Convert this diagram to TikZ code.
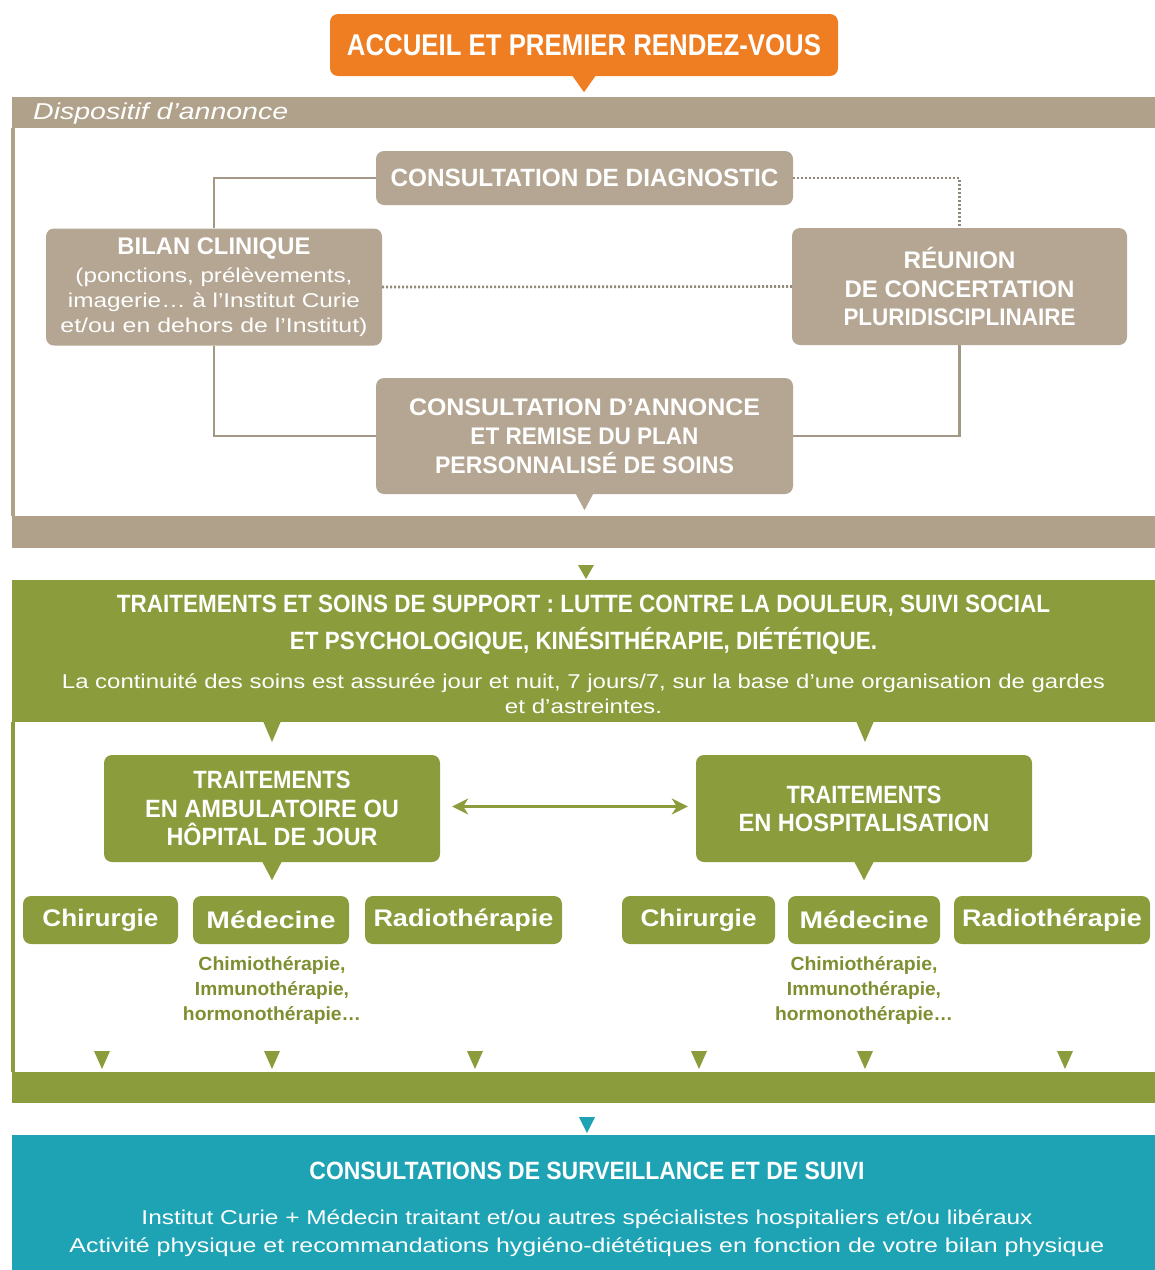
\documentclass[tikz,border=0pt]{standalone}
\usepackage{fontspec}
\setmainfont{Liberation Sans}
\usetikzlibrary{arrows.meta,backgrounds,calc}
\definecolor{orangeA}{HTML}{EF7D22}
\definecolor{brownbox}{HTML}{B4A692}
\definecolor{brownband}{HTML}{B0A18B}
\definecolor{brownline}{HTML}{A39886}
\definecolor{greenA}{HTML}{8A9C3C}
\definecolor{greentext}{HTML}{7D8F30}
\definecolor{tealA}{HTML}{1EA3B4}
\newcommand\hw[2]{\resizebox{#1pt}{\height}{#2}}
\newcommand\fs[2]{\fontsize{#1}{#2}\selectfont}
\tikzset{
  basebox/.style={rounded corners=8, inner sep=0, text=white, align=center},
  obox/.style={basebox, fill=orangeA},
  bbox/.style={basebox, fill=brownbox},
  gbox/.style={basebox, fill=greenA},
  conn/.style={draw=brownline, line width=2.8},
  dotconn/.style={draw=brownline!90!black, line width=2.6, dash pattern=on 2 off 2},
  band/.style={inner sep=0, text=white, align=center},
}
\begin{document}
\begin{tikzpicture}[x=1pt,y=-1pt]
\useasboundingbox (0,0) rectangle (1155,1270);
% ---------- orange header
\node[obox, minimum width=508, minimum height=62, font=\fs{30}{34}\bfseries] (accueil) at (584,45)
  {\hw{474}{ACCUEIL ET PREMIER RENDEZ-VOUS}};
\fill[orangeA] ($(accueil.south)+(-12,-1)$) -- ($(accueil.south)+(12,-1)$) -- ($(accueil.south)+(0,16)$) -- cycle;
% ---------- brown frame
\fill[brownband] (12,97) rectangle (1155,128);
\node[anchor=west, text=white, inner sep=0, font=\fs{23}{26}\itshape] (dispo) at (33,114)
  {\hw{255}{Dispositif d’annonce}};
\fill[brownband] (11,128) rectangle (15,516);
\fill[brownband] (12,516) rectangle (1155,548);
% boxes
\node[bbox, minimum width=417, minimum height=54, font=\fs{25}{29}\bfseries] (diag) at (584.5,178)
  {\hw{388}{CONSULTATION DE DIAGNOSTIC}};
\node[bbox, minimum width=336, minimum height=117, font=\fs{20}{25}] (bilan) at (214,287)
  {{\fs{24}{28}\bfseries\hw{193}{BILAN CLINIQUE}}\\[3pt]
   \hw{277}{(ponctions, prélèvements,}\\
   \hw{292}{imagerie… à l’Institut Curie}\\
   \hw{307}{et/ou en dehors de l’Institut)}};
\node[bbox, minimum width=335, minimum height=117, font=\fs{24}{28.5}\bfseries] (reunion) at (959.5,286.5)
  {\hw{112}{RÉUNION}\\
   \hw{230}{DE CONCERTATION}\\
   \hw{232}{PLURIDISCIPLINAIRE}};
\node[bbox, minimum width=417, minimum height=116, font=\fs{24}{29}\bfseries] (annonce) at (584.5,436)
  {\hw{351}{CONSULTATION D’ANNONCE}\\
   \hw{228}{ET REMISE DU PLAN}\\
   \hw{299}{PERSONNALISÉ DE SOINS}};
\fill[brownbox] ($(annonce.south)+(-9,-1)$) -- ($(annonce.south)+(9,-1)$) -- ($(annonce.south)+(0,16)$) -- cycle;
\begin{pgfonlayer}{background}
\draw[conn] (diag.west) -| (bilan.north);
\draw[conn] (bilan.south) |- (annonce.west);
\draw[conn] (reunion.south) |- (annonce.east);
\draw[dotconn] (diag.east) -| (reunion.north);
\draw[dotconn] (bilan.east) -- (reunion.west);
\end{pgfonlayer}
% ---------- green section
\fill[greenA] (12,580) rectangle (1155,722);
\node[band, font=\fs{20}{25}] (soins) at (583.5,654)
  {{\fs{25}{35}\bfseries\hw{933}{TRAITEMENTS ET SOINS DE SUPPORT : LUTTE CONTRE LA DOULEUR, SUIVI SOCIAL}}\\[10pt]
   {\fs{25}{35}\bfseries\hw{587}{ET PSYCHOLOGIQUE, KINÉSITHÉRAPIE, DIÉTÉTIQUE.}}\\[14pt]
   \hw{1043}{La continuité des soins est assurée jour et nuit, 7 jours/7, sur la base d’une organisation de gardes}\\
   \hw{157}{et d’astreintes.}};
\fill[greenA] (578,565) -- (594,565) -- (586,579) -- cycle;
\fill[greenA] (11,722) rectangle (15,1072);
\fill[greenA] (12,1072) rectangle (1155,1103);
\fill[greenA] (263,721) -- (281,721) -- (272,742) -- cycle;
\fill[greenA] (856,721) -- (874,721) -- (865,742) -- cycle;
\node[gbox, minimum width=336, minimum height=107, font=\fs{25}{28.5}\bfseries] (amb) at (272,808.5)
  {\hw{157}{TRAITEMENTS}\\
   \hw{254}{EN AMBULATOIRE OU}\\
   \hw{211}{HÔPITAL DE JOUR}};
\node[gbox, minimum width=336, minimum height=107, font=\fs{25}{28}\bfseries] (hosp) at (864,808.5)
  {\hw{155}{TRAITEMENTS}\\
   \hw{251}{EN HOSPITALISATION}};
\fill[greenA] ($(amb.south)+(-10,-1)$) -- ($(amb.south)+(10,-1)$) -- ($(amb.south)+(0,18)$) -- cycle;
\fill[greenA] ($(hosp.south)+(-10,-1)$) -- ($(hosp.south)+(10,-1)$) -- ($(hosp.south)+(0,18)$) -- cycle;
\draw[greenA, line width=3.5, {Stealth[length=16,width=16,inset=5]}-{Stealth[length=16,width=16,inset=5]}]
  ($(amb.east)+(12,-2)$) -- ($(hosp.west)+(-8,-2)$);
% small boxes
\tikzset{sbox/.style={gbox, minimum height=48, font=\fs{24}{28}\bfseries}}
\node[sbox, minimum width=155] (chir1) at (100.5,920) {\hw{116}{Chirurgie}};
\node[sbox, minimum width=156] (med1) at (271,920) {\hw{129}{Médecine}};
\node[sbox, minimum width=197] (radio1) at (463.5,920) {\hw{180}{Radiothérapie}};
\node[sbox, minimum width=153] (chir2) at (698.5,920) {\hw{116}{Chirurgie}};
\node[sbox, minimum width=152] (med2) at (864,920) {\hw{129}{Médecine}};
\node[sbox, minimum width=196] (radio2) at (1052,920) {\hw{180}{Radiothérapie}};
\tikzset{subt/.style={text=greentext, align=center, inner sep=0, font=\fs{19}{25}\bfseries}}
\node[subt] (sub1) at (272,990)
  {\hw{147}{Chimiothérapie,}\\ \hw{154}{Immunothérapie,}\\ \hw{178}{hormonothérapie…}};
\node[subt] (sub2) at (864,990)
  {\hw{147}{Chimiothérapie,}\\ \hw{154}{Immunothérapie,}\\ \hw{178}{hormonothérapie…}};
\foreach \xx in {102,272,475,699,865,1065}{
  \fill[greenA] (\xx-8,1051) -- (\xx+8,1051) -- (\xx,1069) -- cycle;
}
% ---------- teal section
\fill[tealA] (579,1117) -- (595,1117) -- (587,1133) -- cycle;
\fill[tealA] (12,1135) rectangle (1155,1270);
\node[band, font=\fs{20}{28}] (suivi) at (587,1209)
  {{\fs{25}{36}\bfseries\hw{555}{CONSULTATIONS DE SURVEILLANCE ET DE SUIVI}}\\[17pt]
   \hw{891}{Institut Curie + Médecin traitant et/ou autres spécialistes hospitaliers et/ou libéraux}\\
   \hw{1035}{Activité physique et recommandations hygiéno-diététiques en fonction de votre bilan physique}};
\end{tikzpicture}
\end{document}
